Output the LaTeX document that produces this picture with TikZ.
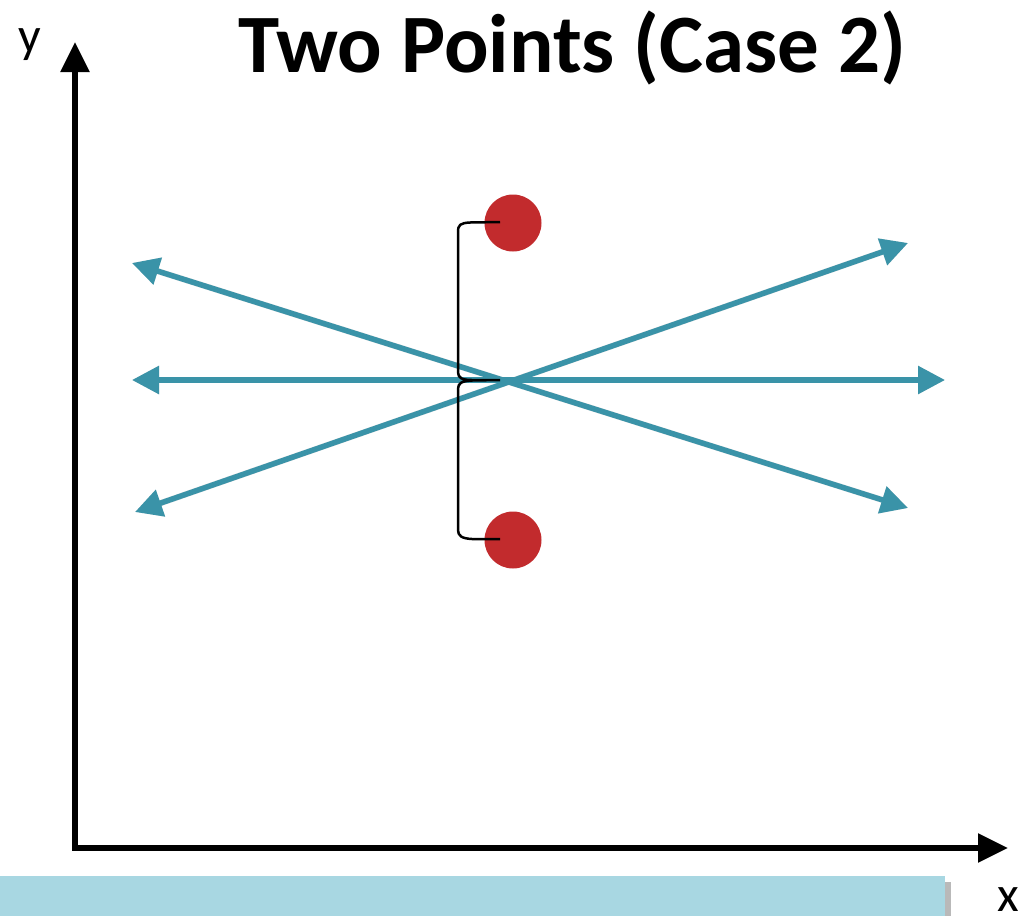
\documentclass[tikz,border=0pt]{standalone}
\usepackage{fontspec}
\setmainfont{Carlito}
\usetikzlibrary{arrows.meta}
\definecolor{teal1}{HTML}{3A93A8}
\definecolor{dotred}{HTML}{C22B2D}
\definecolor{barblue}{HTML}{A8D7E2}
\tikzset{
  axis/.style={line width=5.5pt,-{Triangle[length=30pt,width=28pt]}},
  tline/.style={teal1,line width=5.5pt,{Triangle[length=27pt,width=27pt]}-{Triangle[length=27pt,width=27pt]}},
  tshadow/.style={black,opacity=0.12,line width=6pt,{Triangle[length=27pt,width=27pt]}-{Triangle[length=27pt,width=27pt]}},
  dot/.style={circle,fill=dotred,minimum size=57pt,inner sep=0pt},
  bracestyle/.style={line width=2.5pt,line join=round},
  lbl/.style={font=\fontsize{50pt}{50pt}\selectfont,inner sep=0pt}
}
\begin{document}
\begin{tikzpicture}[x=1pt,y=-1pt]
\useasboundingbox (0,0) rectangle (1032,916);
% bottom bar with shadow
\fill[gray!55] (945,882) rectangle (951,916);
\fill[barblue] (0,876) rectangle (945,916);
% title and labels
\node[font=\bfseries\fontsize{83pt}{83pt}\selectfont,inner sep=0pt,anchor=base] (title) at (572,72) {Two Points (Case 2)};
\node[lbl,anchor=base] (ylab) at (30,52) {y};
\node[lbl,anchor=base] (xlab) at (1008,911) {x};
% axes
\coordinate (origin) at (75,848);
\coordinate (ytip) at (75,42);
\coordinate (xtip) at (1008,848);
\draw[axis,line cap=rect] (origin) -- (ytip);
\draw[axis,line cap=rect] (origin) -- (xtip);
% teal lines
\coordinate (a1) at (132,263);
\coordinate (b1) at (908,508);
\coordinate (a2) at (132,380);
\coordinate (b2) at (945,380);
\coordinate (a3) at (135,512);
\coordinate (b3) at (908,243);
\begin{scope}[shift={(1.5,3)}]
\draw[tshadow] (a1) -- (b1);
\draw[tshadow] (a2) -- (b2);
\draw[tshadow] (a3) -- (b3);
\end{scope}
\draw[tline] (a1) -- (b1);
\draw[tline] (a2) -- (b2);
\draw[tline] (a3) -- (b3);
% points
\node[dot] (p1) at (513,223) {};
\node[dot] (p2) at (513,540) {};
% brace
\coordinate (btop) at (500,222);
\coordinate (bmid) at (500,380);
\coordinate (bbot) at (500,539);
\draw[bracestyle] (btop) -- (470,222.5) .. controls (460,223) and (458,225) .. (458,232)
  -- (458,372) .. controls (458,378) and (462,380) .. (472,380) -- (bmid)
  (bmid) -- (472,380.5) .. controls (462,381) and (458,383) .. (458,389)
  -- (458,530) .. controls (458,536) and (462,538.5) .. (472,539) -- (bbot);
\end{tikzpicture}
\end{document}
